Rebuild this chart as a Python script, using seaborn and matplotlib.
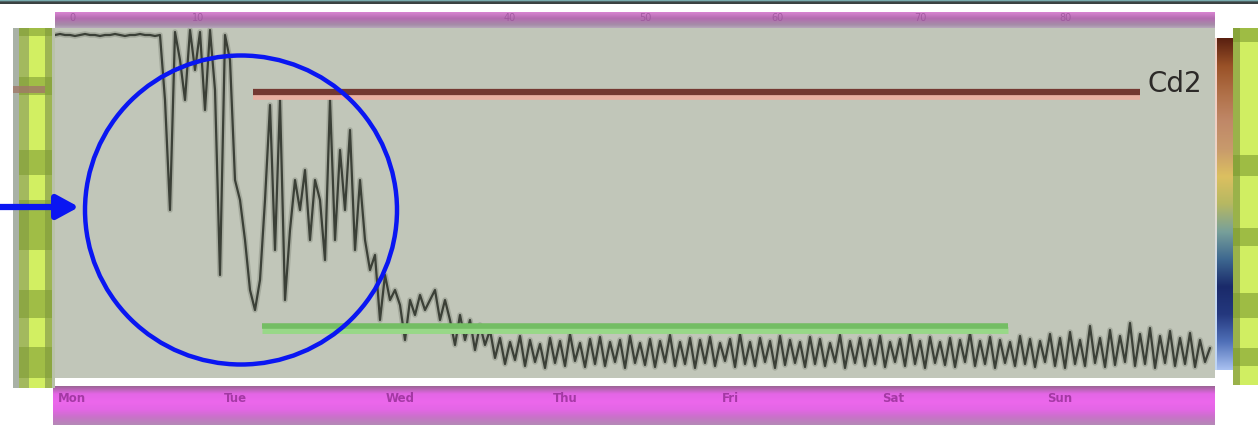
import numpy as np
import pandas as pd
import matplotlib
matplotlib.use("Agg")
import matplotlib.pyplot as plt
from matplotlib.colors import LinearSegmentedColormap
from matplotlib.patches import Ellipse
import seaborn as sns

# ---------------------------------------------------------------------------
# Data: recorded trace (one sample per step), amplitude in display units
# ---------------------------------------------------------------------------
signal = [
    343, 344, 343, 343, 342, 343, 344, 343, 343, 342, 343,
    343, 344, 343, 342, 343, 343, 344, 343, 343, 342, 343,
    278, 168, 346, 318, 278, 348, 308, 346, 268, 348, 288, 103, 343, 318,
    198, 178, 138, 88, 68, 98, 178, 273, 128, 278, 78, 148, 198, 168,
    208, 138, 198, 178, 118, 278,
    138, 228, 168, 248, 128, 198, 138, 108, 123, 58, 103, 78, 88, 73,
    38, 78, 63, 83, 68, 78,
    88, 58, 78, 58, 33, 63, 38, 58, 28, 53, 33, 48,
    20, 40, 14, 36, 18, 42, 12, 38, 16, 34, 10, 40, 15, 37, 12, 44, 17, 35, 11, 39,
    14, 41, 12, 36, 16, 38, 10, 42, 15, 35, 13, 39, 11, 37, 16, 43, 12, 36, 14, 40,
    10, 38, 15, 41, 12, 35, 17, 39, 11, 44, 14, 36, 12, 40, 16, 37, 10, 42, 13, 38,
    15, 36, 11, 41, 14, 39, 12, 35, 16, 43, 10, 37, 15, 40, 12, 38, 14, 42, 11, 36,
    16, 39, 12, 44, 14, 37, 10, 41, 15, 36, 13, 40, 11, 38, 16, 45, 12, 37, 14, 41,
    10, 38, 15, 36, 12, 42, 14, 39, 11, 37, 16, 44, 12, 40, 10, 46, 14, 38, 12, 52,
    15, 40, 11, 48, 13, 42, 16, 55, 12, 44, 14, 50, 10, 42, 15, 47, 12, 40, 14, 45,
    11, 38, 16, 30,
]

# Reference levels (amplitude) and the sample ranges they span
upper_level = 286.5
upper_span = (39.6, 217.0)
upper_label = "Cd2"
lower_level = 50.5
lower_span = (41.4, 190.6)

# Axis labels along the bands
bottom_labels = ["Mon", "Tue", "Wed", "Thu", "Fri", "Sat", "Sun"]
top_labels = ["0", "10", "40", "50", "60", "70", "80"]

# ---------------------------------------------------------------------------
sns.set_theme(style="white")
plt.rcParams["font.family"] = ["DejaVu Sans"]

W, H = 1258, 425
fig = plt.figure(figsize=(W / 100, H / 100), dpi=100)
fig.patch.set_facecolor("white")


def panel(x0, y0, x1, y1):
    a = fig.add_axes([x0 / W, 1 - y1 / H, (x1 - x0) / W, (y1 - y0) / H])
    a.set_axis_off()
    return a


def vgradient(a, colors, x0, x1, y0, y1):
    cmap = LinearSegmentedColormap.from_list("g", colors)
    a.imshow(np.linspace(0, 1, 256)[:, None], aspect="auto", cmap=cmap,
             extent=(x0, x1, y1, y0), interpolation="bilinear")
    a.set_xlim(x0, x1)
    a.set_ylim(y1, y0)


# top border strip
strip = panel(0, 0, W, 4)
vgradient(strip, ["#8fd3d6", "#3b4242", "#3b4242"], 0, W, 0, 4)

# top magenta band
top = panel(55, 12, 1215, 31)
vgradient(top, ["#d985d2", "#b46cb0", "#a58ca8", "#c8c0cc"], 55, 1215, 12, 31)
for xp, lab in zip([72, 198, 510, 645, 778, 920, 1065], top_labels):
    top.text(xp, 18, lab, color="#9a539a", fontsize=7, ha="center", va="center",
             alpha=0.8)

# bottom magenta band
bot = panel(53, 386, 1215, 425)
vgradient(bot, ["#9a6494", "#e466e6", "#ec68ec", "#e466e6", "#c872c8",
                "#b48ab6"], 53, 1215, 386, 425)
for xp, lab in zip([72, 235, 400, 565, 730, 893, 1060], bottom_labels):
    bot.text(xp, 399, lab, color="#8e2a8e", fontsize=8.5, ha="center",
             va="center", alpha=0.75, fontweight="bold")

# left lime scale band
left = panel(13, 28, 55, 388)
left.set_xlim(13, 55)
left.set_ylim(388, 28)
for (a0, a1, c) in [(13, 19, "#a9b1a6"), (19, 29, "#a3b95e"),
                    (29, 45, "#d2ef62"), (45, 52, "#9db552"),
                    (52, 55, "#b9c2a9")]:
    left.axvspan(a0, a1, color=c, lw=0)
for (b0, b1) in [(28, 36), (77, 95), (150, 175), (200, 250), (290, 318),
                 (347, 378)]:
    left.fill_between([19, 52], b0, b1, color="#7f9c34", alpha=0.6, lw=0)
left.fill_between([13, 45], 86, 93, color="#a07868", alpha=0.8, lw=0)

# right lime band
right = panel(1233, 28, 1258, 385)
right.set_xlim(1233, 1258)
right.set_ylim(385, 28)
right.axvspan(1233, 1240, color="#9ab24a", lw=0)
right.axvspan(1240, 1258, color="#d0ee62", lw=0)
for (b0, b1) in [(28, 42), (155, 176), (228, 246), (293, 318), (348, 366)]:
    right.fill_between([1233, 1258], b0, b1, color="#7d9c30", alpha=0.6, lw=0)

# colour scale
cbar = panel(1217, 38, 1233, 370)
vgradient(cbar, ["#5a2010", "#9a5228", "#b07048", "#c08868", "#c89a6c",
                 "#dcc060", "#b6b862", "#78a09a", "#3e6890", "#1a2a6a",
                 "#24387e", "#5070b8", "#a8c0f0"], 1217, 1233, 38, 370)
glow = panel(1211, 38, 1217, 370)
vgradient(glow, ["#f2cfc5", "#f0d0c4", "#e6dccc", "#c8daf0", "#c0d6f4"],
          1211, 1217, 38, 370)

# ---------------------------------------------------------------------------
# Main trace panel
# ---------------------------------------------------------------------------
ax = fig.add_axes([55 / W, 1 - 378 / H, 1160 / W, 350 / H])
ax.set_facecolor("#c1c6b9")
df = pd.DataFrame({"sample": np.arange(len(signal)), "amplitude": signal})

sns.lineplot(data=df, x="sample", y="amplitude", ax=ax, color="#8e9487",
             lw=4.0, alpha=0.55)
sns.lineplot(data=df, x="sample", y="amplitude", ax=ax, color="#3b4037",
             lw=1.6)

# reference levels
ax.plot(upper_span, [upper_level - 3.5] * 2, color="#e9b0a2", lw=7,
        solid_capstyle="butt")
ax.plot(upper_span, [upper_level] * 2, color="#743831", lw=4.5,
        solid_capstyle="butt")
ax.text(upper_span[1] + 12.5, upper_level + 8, upper_label, color="#2c2a28",
        fontsize=20, ha="right", va="center")

ax.plot(lower_span, [lower_level - 2] * 2, color="#98d888", lw=5,
        solid_capstyle="butt")
ax.plot(lower_span, [lower_level + 1.5] * 2, color="#74bd64", lw=4,
        solid_capstyle="butt")

# highlight ring around the burst and pointer arrow
ring = Ellipse((37.2, 168), 62.4, 309, fill=False, edgecolor="#0a16f2",
               lw=3.2, zorder=6)
ax.add_patch(ring)
ax.annotate("", xy=(4.8, 171), xytext=(-11.5, 171),
            arrowprops=dict(arrowstyle="-|>,head_length=1.1,head_width=0.6",
                            color="#0a16f2", lw=4.5, shrinkA=0, shrinkB=0),
            annotation_clip=False, zorder=7)

ax.set_xlim(0, 232)
ax.set_ylim(0, 350)
ax.set_xlabel("")
ax.set_ylabel("")
ax.set_xticks([])
ax.set_yticks([])
for s in ax.spines.values():
    s.set_visible(False)

fig.savefig("out.png", dpi=100, facecolor="white")
